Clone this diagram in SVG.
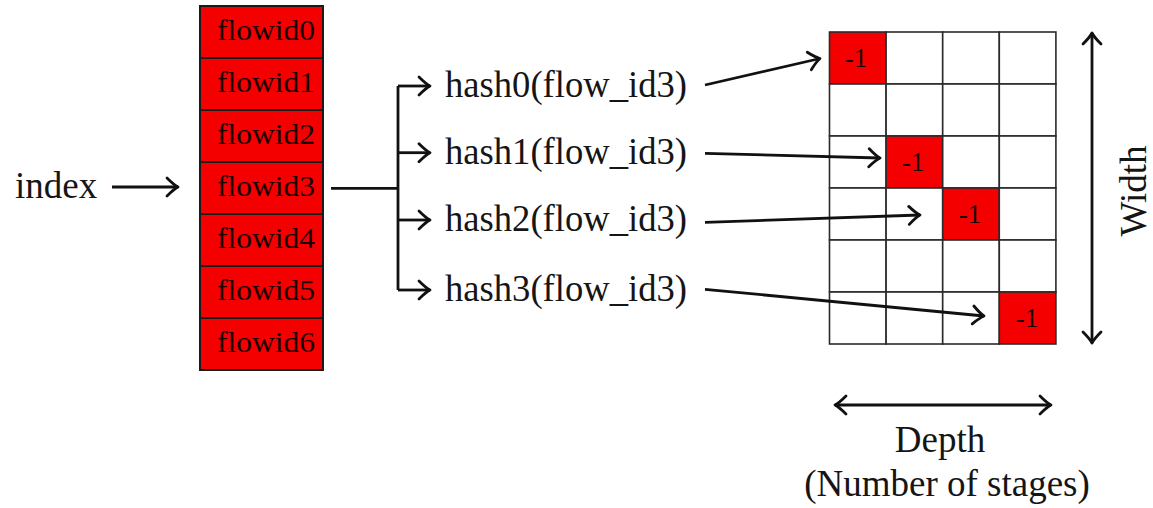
<svg xmlns="http://www.w3.org/2000/svg" width="1153" height="508" viewBox="0 0 1153 508">
<style>
.lbl{font-family:"Liberation Serif","Times New Roman",serif;font-size:37px;fill:#151515}
.fid{font-family:"Liberation Serif","Times New Roman",serif;font-size:30px;fill:#1a0000;text-anchor:middle}
.neg{font-family:"Liberation Serif","Times New Roman",serif;font-size:27px;fill:#1a0000;text-anchor:middle}
.cellr{fill:#f40000;stroke:#1a1a1a;stroke-width:2}
.gw{fill:#ffffff;stroke:#2a2a2a;stroke-width:1.6}
.gr{fill:#f40000;stroke:#2a2a2a;stroke-width:1.6}
.ln{fill:none;stroke:#111;stroke-width:2.8;stroke-linecap:butt;stroke-linejoin:round}
.arr{marker-end:url(#ah)}
.dbl{marker-start:url(#ah);marker-end:url(#ah)}
</style>
<defs>
<marker id="ah" markerUnits="userSpaceOnUse" viewBox="-14 -11 16 22" refX="0" refY="0" markerWidth="16" markerHeight="22" orient="auto-start-reverse">
<path d="M-11,-9 Q-4,-2 0,0 Q-4,2 -11,9" fill="none" stroke="#111" stroke-width="2.8" stroke-linecap="round" stroke-linejoin="round"/>
</marker>
</defs>
<rect width="1153" height="508" fill="#ffffff"/>

<g id="index-label">
<text class="lbl" x="15" y="198">index</text>
</g>

<g id="flowid-array">
<g id="flowid0"><rect class="cellr" x="200" y="6" width="123" height="52"/><text class="fid" x="266" y="40" textLength="98" lengthAdjust="spacingAndGlyphs">flowid0</text></g>
<g id="flowid1"><rect class="cellr" x="200" y="58" width="123" height="52"/><text class="fid" x="266" y="92" textLength="98" lengthAdjust="spacingAndGlyphs">flowid1</text></g>
<g id="flowid2"><rect class="cellr" x="200" y="110" width="123" height="52"/><text class="fid" x="266" y="144" textLength="98" lengthAdjust="spacingAndGlyphs">flowid2</text></g>
<g id="flowid3"><rect class="cellr" x="200" y="162" width="123" height="52"/><text class="fid" x="266" y="196" textLength="98" lengthAdjust="spacingAndGlyphs">flowid3</text></g>
<g id="flowid4"><rect class="cellr" x="200" y="214" width="123" height="52"/><text class="fid" x="266" y="248" textLength="98" lengthAdjust="spacingAndGlyphs">flowid4</text></g>
<g id="flowid5"><rect class="cellr" x="200" y="266" width="123" height="52"/><text class="fid" x="266" y="300" textLength="98" lengthAdjust="spacingAndGlyphs">flowid5</text></g>
<g id="flowid6"><rect class="cellr" x="200" y="318" width="123" height="52"/><text class="fid" x="266" y="352" textLength="98" lengthAdjust="spacingAndGlyphs">flowid6</text></g>
</g>

<g id="hash0"><text class="lbl" x="445" y="97" textLength="242" lengthAdjust="spacingAndGlyphs">hash0(flow_id3)</text></g>
<g id="hash1"><text class="lbl" x="445" y="164" textLength="242" lengthAdjust="spacingAndGlyphs">hash1(flow_id3)</text></g>
<g id="hash2"><text class="lbl" x="445" y="231" textLength="242" lengthAdjust="spacingAndGlyphs">hash2(flow_id3)</text></g>
<g id="hash3"><text class="lbl" x="445" y="301" textLength="242" lengthAdjust="spacingAndGlyphs">hash3(flow_id3)</text></g>

<g id="sketch-grid">
<rect class="gr" x="829.5" y="32" width="56.6" height="52"/>
<rect class="gw" x="886.1" y="32" width="56.6" height="52"/>
<rect class="gw" x="942.7" y="32" width="56.6" height="52"/>
<rect class="gw" x="999.3" y="32" width="56.6" height="52"/>
<rect class="gw" x="829.5" y="84" width="56.6" height="52"/>
<rect class="gw" x="886.1" y="84" width="56.6" height="52"/>
<rect class="gw" x="942.7" y="84" width="56.6" height="52"/>
<rect class="gw" x="999.3" y="84" width="56.6" height="52"/>
<rect class="gw" x="829.5" y="136" width="56.6" height="52"/>
<rect class="gr" x="886.1" y="136" width="56.6" height="52"/>
<rect class="gw" x="942.7" y="136" width="56.6" height="52"/>
<rect class="gw" x="999.3" y="136" width="56.6" height="52"/>
<rect class="gw" x="829.5" y="188" width="56.6" height="52"/>
<rect class="gw" x="886.1" y="188" width="56.6" height="52"/>
<rect class="gr" x="942.7" y="188" width="56.6" height="52"/>
<rect class="gw" x="999.3" y="188" width="56.6" height="52"/>
<rect class="gw" x="829.5" y="240" width="56.6" height="52"/>
<rect class="gw" x="886.1" y="240" width="56.6" height="52"/>
<rect class="gw" x="942.7" y="240" width="56.6" height="52"/>
<rect class="gw" x="999.3" y="240" width="56.6" height="52"/>
<rect class="gw" x="829.5" y="292" width="56.6" height="52"/>
<rect class="gw" x="886.1" y="292" width="56.6" height="52"/>
<rect class="gw" x="942.7" y="292" width="56.6" height="52"/>
<rect class="gr" x="999.3" y="292" width="56.6" height="52"/>
<text class="neg" x="856" y="67">-1</text>
<text class="neg" x="913" y="171">-1</text>
<text class="neg" x="970" y="223">-1</text>
<text class="neg" x="1027" y="327">-1</text>
</g>

<g id="width-label">
<text class="lbl" x="1146" y="191" text-anchor="middle" transform="rotate(-90 1146 191)">Width</text>
</g>

<g id="depth-label">
<text class="lbl" x="940" y="452" text-anchor="middle">Depth</text>
<text class="lbl" x="947" y="496" text-anchor="middle">(Number of stages)</text>
</g>

<g id="connectors">
<line class="ln arr" x1="112" y1="187" x2="178" y2="187"/>
<path class="ln" d="M331,188.3 H398"/>
<path class="ln" d="M398,86 V290"/>
<line class="ln arr" x1="398" y1="86" x2="430" y2="86"/>
<line class="ln arr" x1="398" y1="152.7" x2="430" y2="152.7"/>
<line class="ln arr" x1="398" y1="220" x2="430" y2="220"/>
<line class="ln arr" x1="398" y1="290" x2="430" y2="290"/>
<line class="ln arr" x1="705" y1="85" x2="820" y2="58.5"/>
<line class="ln arr" x1="705" y1="153.3" x2="880" y2="158"/>
<line class="ln arr" x1="705" y1="222.3" x2="920" y2="215"/>
<line class="ln arr" x1="705" y1="289.3" x2="984" y2="316"/>
<line class="ln dbl" x1="1092" y1="33" x2="1092" y2="343"/>
<line class="ln dbl" x1="835" y1="405" x2="1051" y2="405"/>
</g>
</svg>
